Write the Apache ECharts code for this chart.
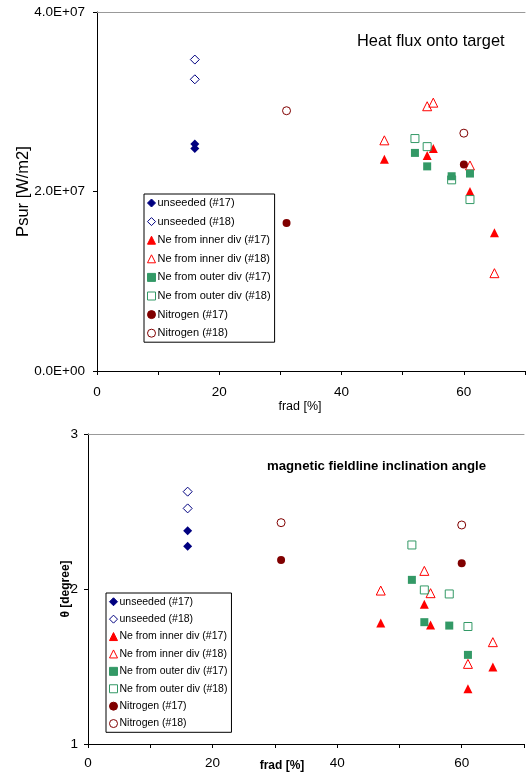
<!DOCTYPE html>
<html>
<head>
<meta charset="utf-8">
<script src="https://cdn.jsdelivr.net/npm/echarts@6/dist/echarts.min.js"></script>
<style>
  html, body { margin: 0; padding: 0; background: #fff; }
  #main { width: 528px; height: 776px; }
</style>
</head>
<body>
<div id="main"></div>
<script>
// series names (legend order)
var seriesNames = [
  'unseeded (#17)', 'unseeded (#18)',
  'Ne from inner div (#17)', 'Ne from inner div (#18)',
  'Ne from outer div (#17)', 'Ne from outer div (#18)',
  'Nitrogen (#17)', 'Nitrogen (#18)'
];

// top chart: Psur [W/m2] vs frad [%]
var psurUnseeded17 = [[16, 2.53e7], [16, 2.48e7]];
var psurUnseeded18 = [[16, 3.47e7], [16, 3.25e7]];
var psurNeInner17 = [[47, 2.36e7], [54, 2.40e7], [55, 2.48e7], [61, 2.00e7], [65, 1.54e7]];
var psurNeInner18 = [[47, 2.57e7], [54, 2.95e7], [55, 2.99e7], [61, 2.29e7], [65, 1.09e7]];
var psurNeOuter17 = [[52, 2.43e7], [54, 2.28e7], [58, 2.17e7], [61, 2.20e7]];
var psurNeOuter18 = [[52, 2.59e7], [54, 2.50e7], [58, 2.13e7], [61, 1.91e7]];
var psurNitrogen17 = [[31, 1.65e7], [60, 2.30e7]];
var psurNitrogen18 = [[31, 2.90e7], [60, 2.65e7]];

// bottom chart: theta [degree] vs frad [%]
var thetaUnseeded17 = [[16, 2.376], [16, 2.276]];
var thetaUnseeded18 = [[16, 2.628], [16, 2.52]];
var thetaNeInner17 = [[47, 1.78], [54, 1.902], [55, 1.767], [61, 1.356], [65, 1.496]];
var thetaNeInner18 = [[47, 1.99], [54, 2.117], [55, 1.973], [61, 1.517], [65, 1.657]];
var thetaNeOuter17 = [[52, 2.059], [54, 1.786], [58, 1.764], [61, 1.575]];
var thetaNeOuter18 = [[52, 2.284], [54, 1.994], [58, 1.968], [61, 1.758]];
var thetaNitrogen17 = [[31, 2.187], [60, 2.166]];
var thetaNitrogen18 = [[31, 2.428], [60, 2.413]];

// tick labels
var fradTickLabels = [0, 20, 40, 60];
var psurTickLabels = ['0.0E+00', '2.0E+07', '4.0E+07'];
var thetaTickLabels = ['1', '2', '3'];

var FONT = '"Liberation Sans", Arial, sans-serif';

// marker look per series
var markers = [
  { symbol: 'diamond', color: '#000080', filled: true, size: 9 },
  { symbol: 'diamond', color: '#000080', filled: false, size: 9 },
  { symbol: 'triangle', color: '#ff0000', filled: true, size: 9 },
  { symbol: 'triangle', color: '#ff0000', filled: false, size: 9 },
  { symbol: 'rect', color: '#339966', filled: true, size: 8 },
  { symbol: 'rect', color: '#339966', filled: false, size: 8 },
  { symbol: 'circle', color: '#800000', filled: true, size: 8 },
  { symbol: 'circle', color: '#800000', filled: false, size: 8 }
];

function makeSeries(dataList, gridIdx) {
  return dataList.map(function (d, i) {
    var m = markers[i];
    return {
      name: seriesNames[i],
      type: 'scatter',
      xAxisIndex: gridIdx * 2,
      yAxisIndex: gridIdx,
      symbol: m.symbol,
      symbolSize: m.size,
      itemStyle: m.filled
        ? { color: m.color, borderColor: m.color, borderWidth: 0, opacity: 1 }
        : { color: 'rgba(255,255,255,0)', borderColor: m.color, borderWidth: 1, opacity: 1 },
      emphasis: { disabled: true },
      data: d
    };
  });
}

function xAxisBottom(gridIdx) {
  return {
    type: 'value', gridIndex: gridIdx, position: 'bottom',
    min: 0, max: 70, interval: 10,
    splitLine: { show: false },
    axisLine: { lineStyle: { color: '#000', width: 1 } },
    axisTick: { length: 4, lineStyle: { color: '#000' } },
    axisLabel: {
      margin: gridIdx === 0 ? 14 : 12,
      fontSize: 13.5, color: '#000', fontFamily: FONT,
      formatter: function (v) { return fradTickLabels.indexOf(v) >= 0 ? String(v) : ''; }
    }
  };
}
function xAxisTop(gridIdx) {
  return {
    type: 'value', gridIndex: gridIdx, position: 'top',
    min: 0, max: 70,
    splitLine: { show: false },
    axisLine: { lineStyle: { color: '#999', width: 1 } },
    axisTick: { show: false },
    axisLabel: { show: false }
  };
}

function legendAt(left, top, fontSize, lineHeight, gap) {
  return {
    orient: 'vertical', left: left, top: top,
    padding: [3, 4, 3, 3], itemGap: gap, itemWidth: 8, itemHeight: 8,
    borderColor: '#000', borderWidth: 1, backgroundColor: '#fff',
    itemStyle: { borderWidth: 1 },
    textStyle: { fontSize: fontSize, lineHeight: lineHeight, color: '#000', fontFamily: FONT, padding: [0, 0, 0, -3] },
    data: seriesNames, selectedMode: false
  };
}

var option = {
  backgroundColor: '#fff',
  animation: false,
  title: [
    { text: 'Heat flux onto target', left: 357, top: 33, padding: 0,
      textStyle: { fontSize: 16.4, fontWeight: 'normal', color: '#000', fontFamily: FONT } },
    { text: 'frad [%]', left: 300, top: 400, padding: 0, textAlign: 'center',
      textStyle: { fontSize: 12.5, fontWeight: 'normal', color: '#000', fontFamily: FONT } },
    { text: 'magnetic fieldline inclination angle', left: 267, top: 460, padding: 0,
      textStyle: { fontSize: 13.2, fontWeight: 'bold', color: '#000', fontFamily: FONT } },
    { text: 'frad [%]', left: 282, top: 760, padding: 0, textAlign: 'center',
      textStyle: { fontSize: 12, fontWeight: 'bold', color: '#000', fontFamily: FONT } }
  ],
  legend: [
    legendAt(144, 194, 11, 12, 6.6),
    legendAt(106, 593, 10.5, 11.5, 5.9)
  ],
  grid: [
    { left: 97, top: 12, right: 0, bottom: 405 },
    { left: 88, top: 434, right: 4, bottom: 32 }
  ],
  xAxis: [xAxisBottom(0), xAxisTop(0), xAxisBottom(1), xAxisTop(1)],
  yAxis: [
    {
      type: 'value', gridIndex: 0, min: 0, max: 4e7, interval: 2e7,
      name: 'Psur [W/m2]', nameLocation: 'middle', nameGap: 65, nameMoveOverlap: false,
      nameTextStyle: { fontSize: 16.5, color: '#000', fontFamily: FONT },
      splitLine: { show: false },
      axisLine: { show: true, lineStyle: { color: '#000' } },
      axisTick: { show: true, length: 4, lineStyle: { color: '#000' } },
      axisLabel: {
        margin: 12, fontSize: 13.5, color: '#000', fontFamily: FONT,
        formatter: function (v, i) { return psurTickLabels[i]; }
      }
    },
    {
      type: 'value', gridIndex: 1, min: 1, max: 3, interval: 1,
      name: 'θ [degree]', nameLocation: 'middle', nameGap: 16, nameMoveOverlap: false,
      nameTextStyle: { fontSize: 12, fontWeight: 'bold', color: '#000', fontFamily: FONT },
      splitLine: { show: false },
      axisLine: { show: true, lineStyle: { color: '#000' } },
      axisTick: { show: true, length: 4, lineStyle: { color: '#000' } },
      axisLabel: {
        margin: 10, fontSize: 13.5, color: '#000', fontFamily: FONT,
        formatter: function (v, i) { return thetaTickLabels[i]; }
      }
    }
  ],
  series: makeSeries([
    psurUnseeded17, psurUnseeded18, psurNeInner17, psurNeInner18,
    psurNeOuter17, psurNeOuter18, psurNitrogen17, psurNitrogen18
  ], 0).concat(makeSeries([
    thetaUnseeded17, thetaUnseeded18, thetaNeInner17, thetaNeInner18,
    thetaNeOuter17, thetaNeOuter18, thetaNitrogen17, thetaNitrogen18
  ], 1))
};

var chart = echarts.init(document.getElementById('main'));
chart.setOption(option);
</script>
</body>
</html>
